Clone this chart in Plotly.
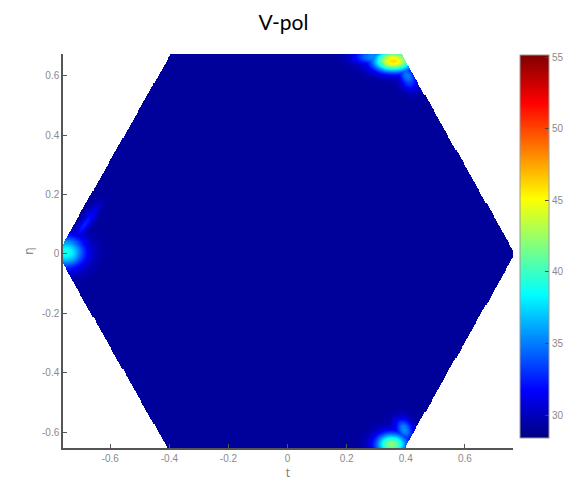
import numpy as np
import plotly.graph_objects as go

# Axis extents (t, eta) and tick labels
T_RANGE = [-0.76, 0.763]
ETA_RANGE = [-0.653, 0.673]
T_TICKS = [-0.6, -0.4, -0.2, 0, 0.2, 0.4, 0.6]
T_TICKTEXT = ["-0.6", "-0.4", "-0.2", "0", "0.2", "0.4", "0.6"]
ETA_TICKS = [-0.6, -0.4, -0.2, 0, 0.2, 0.4, 0.6]
ETA_TICKTEXT = ["-0.6", "-0.4", "-0.2", "0", "0.2", "0.4", "0.6"]
CBAR_TICKS = [30, 35, 40, 45, 50, 55]
CBAR_TICKTEXT = ["30", "35", "40", "45", "50", "55"]
CBAR_RANGE = [28.4, 55.14]

# Hexagonal visible region (vertices, clockwise)
HEX_T = [-0.78, -0.38, 0.37, 0.77, 0.37, -0.38]
HEX_ETA = [0.0, 0.70, 0.70, 0.0, -0.70, -0.70]

# Brightness temperature field: flat level plus localized hot spots near the corners
BACKGROUND = 29.1
SPOT_T = [0.358, 0.29, 0.405, -0.75, -0.685, 0.352, 0.395]
SPOT_ETA = [0.650, 0.664, 0.598, 0.005, 0.10, -0.642, -0.592]
SPOT_PEAK = [46.0, 35.5, 35.0, 39.0, 32.5, 42.0, 35.5]
SPOT_WT = [0.048, 0.045, 0.020, 0.045, 0.012, 0.038, 0.020]
SPOT_WETA = [0.026, 0.018, 0.032, 0.037, 0.050, 0.028, 0.028]
SPOT_ANGLE = [0.0, 0.0, 30.0, 0.0, -35.0, 0.0, 30.0]

JET = [[0.0, "rgb(0,0,128)"], [0.125, "rgb(0,0,255)"], [0.375, "rgb(0,255,255)"],
       [0.625, "rgb(255,255,0)"], [0.875, "rgb(255,0,0)"], [1.0, "rgb(128,0,0)"]]

step = 0.0035
t = np.arange(T_RANGE[0] - step, T_RANGE[1] + step, step)
eta = np.arange(ETA_RANGE[0] - step, ETA_RANGE[1] + step, step)
TT, EE = np.meshgrid(t, eta)

z = np.full(TT.shape, BACKGROUND)
for ct, ce, pk, wt, we, ang in zip(SPOT_T, SPOT_ETA, SPOT_PEAK, SPOT_WT, SPOT_WETA, SPOT_ANGLE):
    a = np.deg2rad(ang)
    dt, de = TT - ct, EE - ce
    u = dt * np.cos(a) + de * np.sin(a)
    v = -dt * np.sin(a) + de * np.cos(a)
    spot = BACKGROUND + (pk - BACKGROUND) * np.exp(-0.5 * ((u / wt) ** 2 + (v / we) ** 2))
    z = np.maximum(z, spot)

# keep only points inside the hexagon
inside = np.ones(TT.shape, dtype=bool)
n = len(HEX_T)
for i in range(n):
    x0, y0 = HEX_T[i], HEX_ETA[i]
    x1, y1 = HEX_T[(i + 1) % n], HEX_ETA[(i + 1) % n]
    cross = (x1 - x0) * (EE - y0) - (y1 - y0) * (TT - x0)
    inside &= cross <= 0
z = np.where(inside, z, np.nan)

# pixel geometry of the page
W, H = 567, 488
ML, MR, MT, MB = 63, 54, 54, 40
PLOT_W = W - ML - MR
PLOT_H = H - MT - MB
CB_LEFT, CB_RIGHT, CB_TOP, CB_BOTTOM = 520, 549, 55, 438

fig = go.Figure(go.Heatmap(
    x=t, y=eta, z=z,
    colorscale=JET, zmin=CBAR_RANGE[0], zmax=CBAR_RANGE[1],
    hoverinfo="skip",
    colorbar=dict(
        x=(CB_LEFT - ML) / PLOT_W, xanchor="left", xpad=0,
        y=(H - MB - CB_TOP) / PLOT_H, yanchor="top", ypad=0,
        lenmode="pixels", len=CB_BOTTOM - CB_TOP,
        thickness=CB_RIGHT - CB_LEFT, outlinecolor="#9a9a9a", outlinewidth=1,
        tickvals=CBAR_TICKS, ticktext=CBAR_TICKTEXT,
        ticks="inside", ticklen=4, tickcolor="#444",
        tickfont=dict(size=10, color="#8a8a8a", family="Liberation Sans"),
    ),
))

axis_common = dict(
    showgrid=False, zeroline=False, showline=True, linecolor="#555", linewidth=1.5,
    ticks="inside", ticklen=4, tickcolor="#555",
    tickfont=dict(size=10, color="#8a8a8a", family="Liberation Sans"),
    mirror=False,
)
fig.update_xaxes(range=T_RANGE, tickvals=T_TICKS, ticktext=T_TICKTEXT,
                 title=dict(text="t", font=dict(size=12, color="#777"), standoff=0),
                 **axis_common)
fig.update_yaxes(range=ETA_RANGE, tickvals=ETA_TICKS, ticktext=ETA_TICKTEXT,
                 title=dict(text="η", font=dict(size=12, color="#777"), standoff=6),
                 **axis_common)

fig.update_layout(
    width=W, height=H,
    margin=dict(l=ML, r=MR, t=MT, b=MB, autoexpand=False),
    paper_bgcolor="white", plot_bgcolor="white",
    title=dict(text="V-pol", x=0.5, xanchor="center", y=0.953, yanchor="middle",
               font=dict(size=21, color="black", family="Lato")),
)

fig.write_html("out.html")
